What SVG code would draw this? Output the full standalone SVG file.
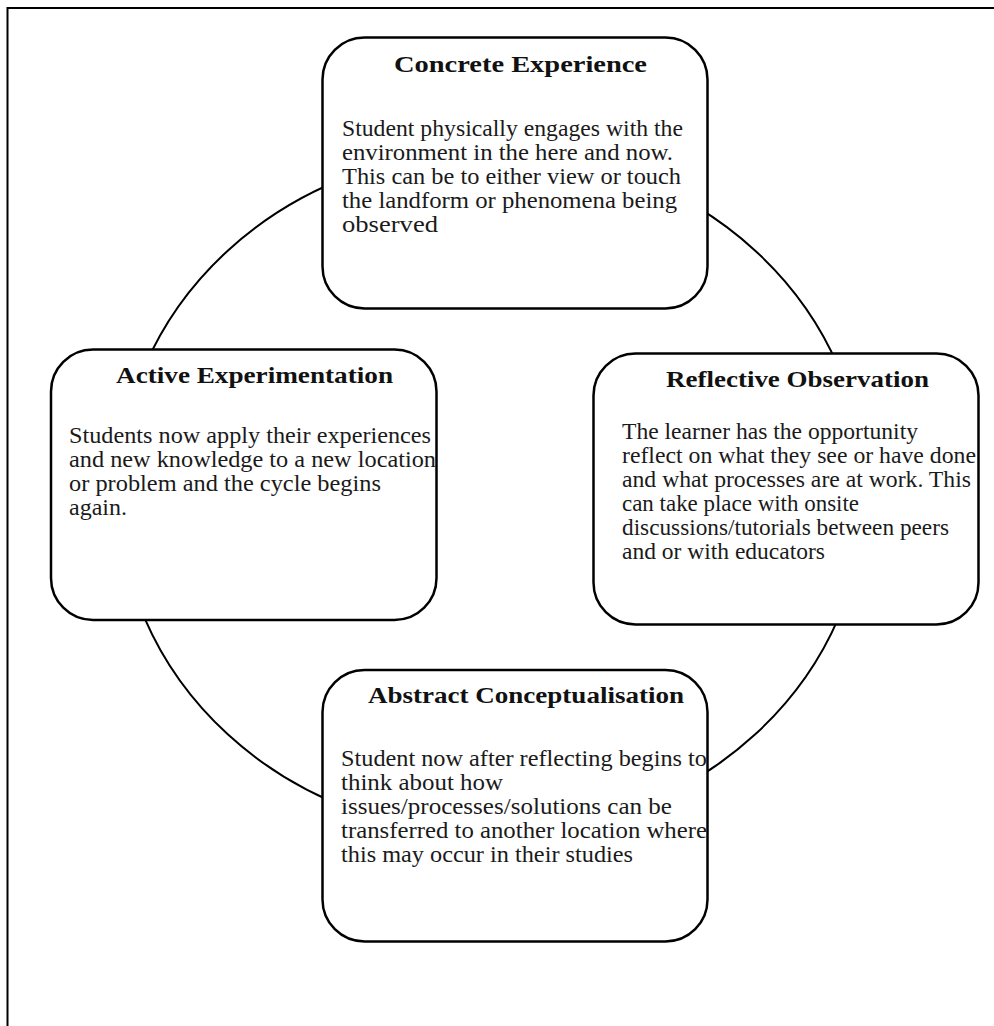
<svg xmlns="http://www.w3.org/2000/svg" width="994" height="1026" viewBox="0 0 994 1026">
<style>
.box{fill:#fff;stroke:#000;stroke-width:2.5}
.ring{fill:none;stroke:#000;stroke-width:2}
.t{font-family:"Liberation Serif","Times New Roman",serif;font-size:24px;font-weight:bold;fill:#111}
.b{font-family:"Liberation Serif","Times New Roman",serif;font-size:23px;fill:#1a1a1a}
</style>
<rect x="0" y="0" width="994" height="1026" fill="#fff"/>
<rect x="7.5" y="8" width="1100" height="1100" fill="none" stroke="#000" stroke-width="2"/>
<g id="connectors">
<ellipse class="ring" cx="491.5" cy="492.5" rx="373" ry="342"/>
</g>
<g id="concrete">
<rect class="box" x="322.5" y="37.5" width="385" height="271" rx="42"/>
<text class="t" x="394" y="72" textLength="253" lengthAdjust="spacingAndGlyphs">Concrete Experience</text>
<text class="b" x="342" y="136" textLength="341" lengthAdjust="spacingAndGlyphs">Student physically engages with the</text>
<text class="b" x="342" y="160" textLength="331" lengthAdjust="spacingAndGlyphs">environment in the here and now.</text>
<text class="b" x="342" y="184" textLength="339" lengthAdjust="spacingAndGlyphs">This can be to either view or touch</text>
<text class="b" x="342" y="208" textLength="335" lengthAdjust="spacingAndGlyphs">the landform or phenomena being</text>
<text class="b" x="342" y="232" textLength="96" lengthAdjust="spacingAndGlyphs">observed</text>
</g>
<g id="reflective">
<rect class="box" x="593.5" y="353.5" width="385" height="271" rx="42"/>
<text class="t" x="666" y="387" textLength="263" lengthAdjust="spacingAndGlyphs">Reflective Observation</text>
<text class="b" x="622" y="439" textLength="296" lengthAdjust="spacingAndGlyphs">The learner has the opportunity</text>
<text class="b" x="622" y="463" textLength="354" lengthAdjust="spacingAndGlyphs">reflect on what they see or have done</text>
<text class="b" x="622" y="487" textLength="349" lengthAdjust="spacingAndGlyphs">and what processes are at work. This</text>
<text class="b" x="622" y="511" textLength="237" lengthAdjust="spacingAndGlyphs">can take place with onsite</text>
<text class="b" x="622" y="535" textLength="327" lengthAdjust="spacingAndGlyphs">discussions/tutorials between peers</text>
<text class="b" x="622" y="559" textLength="203" lengthAdjust="spacingAndGlyphs">and or with educators</text>
</g>
<g id="active">
<rect class="box" x="51" y="349.5" width="385.5" height="270.5" rx="42"/>
<text class="t" x="116" y="383" textLength="277" lengthAdjust="spacingAndGlyphs">Active Experimentation</text>
<text class="b" x="69" y="443" textLength="362" lengthAdjust="spacingAndGlyphs">Students now apply their experiences</text>
<text class="b" x="69" y="467" textLength="367" lengthAdjust="spacingAndGlyphs">and new knowledge to a new location</text>
<text class="b" x="69" y="491" textLength="312" lengthAdjust="spacingAndGlyphs">or problem and the cycle begins</text>
<text class="b" x="69" y="515" textLength="58" lengthAdjust="spacingAndGlyphs">again.</text>
</g>
<g id="abstract">
<rect class="box" x="322.5" y="670" width="385" height="271.5" rx="42"/>
<text class="t" x="368" y="703" textLength="316" lengthAdjust="spacingAndGlyphs">Abstract Conceptualisation</text>
<text class="b" x="341" y="766" textLength="366" lengthAdjust="spacingAndGlyphs">Student now after reflecting begins to</text>
<text class="b" x="341" y="790" textLength="162" lengthAdjust="spacingAndGlyphs">think about how</text>
<text class="b" x="341" y="814" textLength="331" lengthAdjust="spacingAndGlyphs">issues/processes/solutions can be</text>
<text class="b" x="341" y="838" textLength="366" lengthAdjust="spacingAndGlyphs">transferred to another location where</text>
<text class="b" x="341" y="862" textLength="292" lengthAdjust="spacingAndGlyphs">this may occur in their studies</text>
</g>
</svg>
